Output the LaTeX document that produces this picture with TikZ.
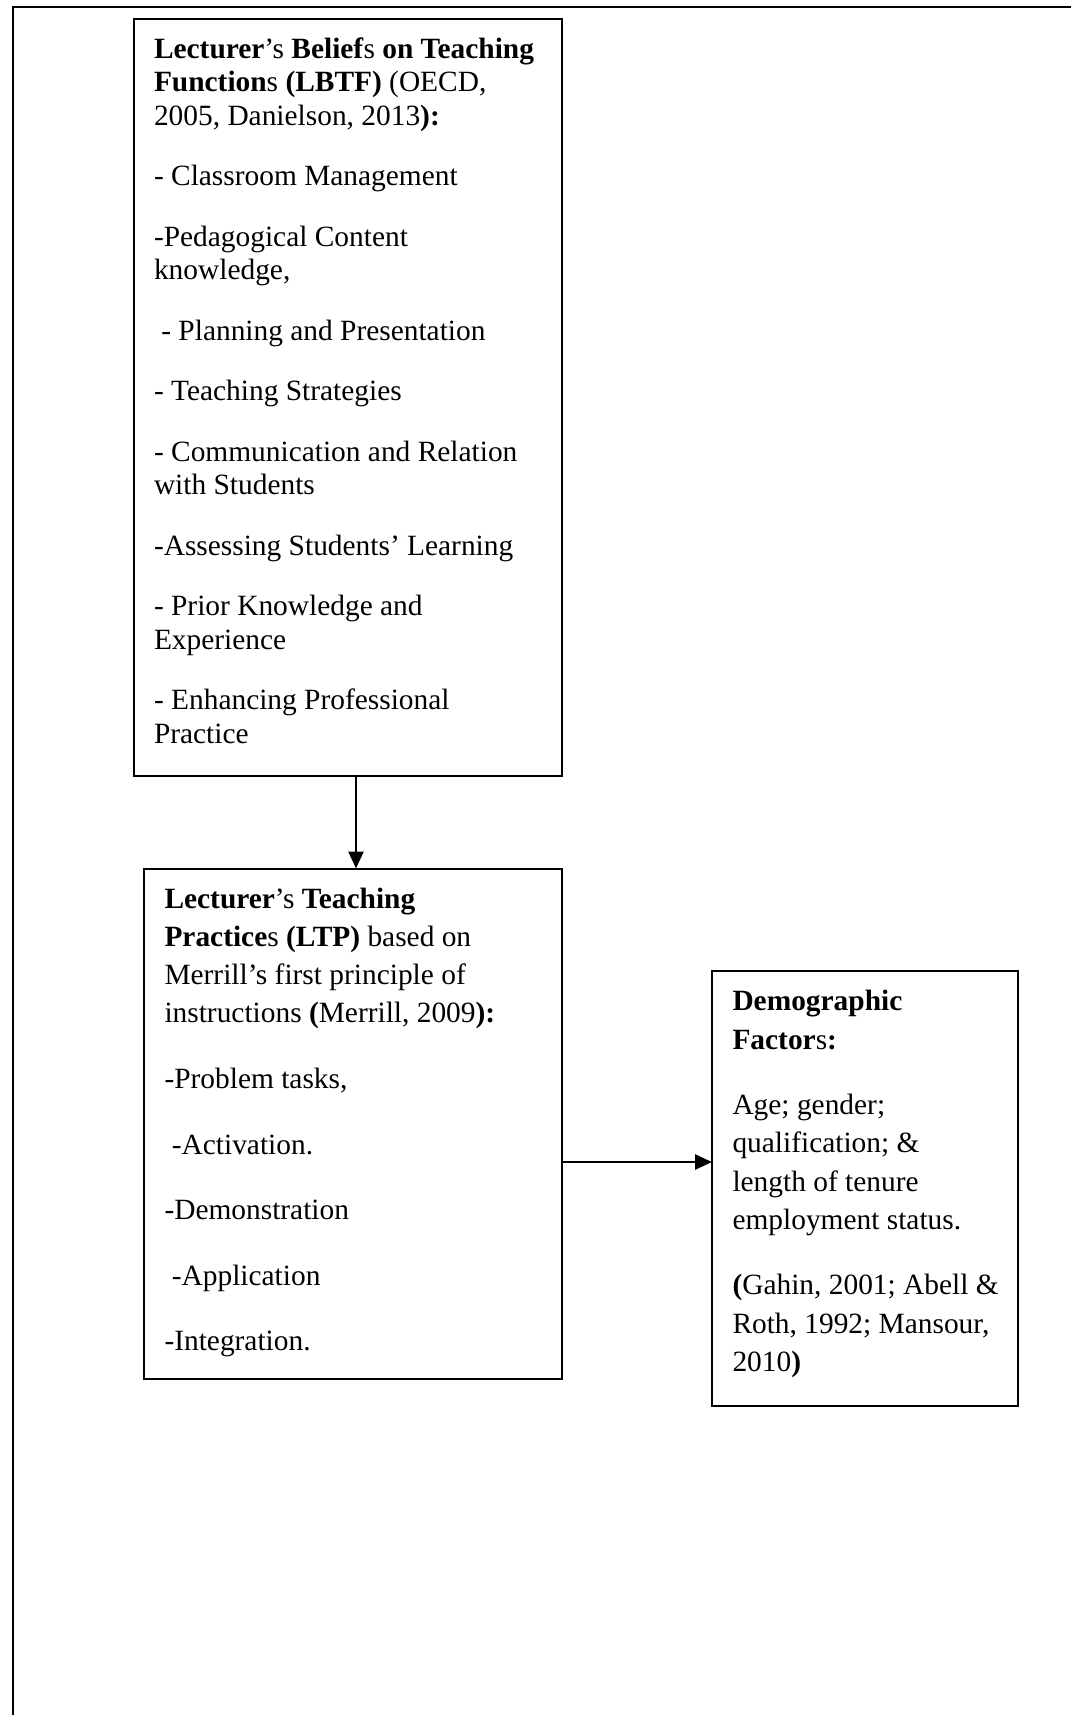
\documentclass[tikz,border=0pt]{standalone}
\usepackage{fontspec}
\setmainfont{Liberation Serif}
\usetikzlibrary{arrows.meta}
% #1 width, #2 height, #3 baselineskip, #4 parskip, #5 first baseline, #6 text
\newcommand{\bxt}[6]{\parbox[t][#2][t]{#1}{\fontsize{29.4pt}{#3}\selectfont\raggedright\setlength{\parskip}{#4}\setlength{\leftskip}{20.5pt}\rule{0pt}{#5}#6}}
\tikzset{
  box/.style={draw, line width=2pt, inner sep=0pt, outer sep=0pt, anchor=north west},
  arr/.style={line width=2.6pt, -{Triangle[length=17pt,width=15pt]}},
  frame/.style={line width=2.4pt}
}
\begin{document}
\begin{tikzpicture}[x=1pt,y=-1pt]
\useasboundingbox (0,0) rectangle (1071,1715);
\draw[frame] (13,1715) -- (13,7) -- (1071,7);

\node[box] (lbtf) at (133.5,18.6) {\bxt{428pt}{757.4pt}{33.5pt}{27pt}{39.5pt}{%
\textbf{Lecturer}’s \textbf{Belief}s \textbf{on Teaching}\\
\textbf{Function}s \textbf{(LBTF)} (OECD,\\
2005, Danielson, 2013\textbf{):}

- Classroom Management

-Pedagogical Content\\
knowledge,

\ - Planning and Presentation

- Teaching Strategies

- Communication and Relation\\
with Students

-Assessing Students’ Learning

- Prior Knowledge and\\
Experience

- Enhancing Professional\\
Practice}};

\node[box] (ltp) at (144,868.5) {\bxt{417.5pt}{510pt}{38.3pt}{27.3pt}{39.5pt}{%
\textbf{Lecturer}’s \textbf{Teaching}\\
\textbf{Practice}s \textbf{(LTP)} based on\\
Merrill’s first principle of\\
instructions \textbf{(}Merrill, 2009\textbf{):}

-Problem tasks,

\ -Activation.

-Demonstration

\ -Application

-Integration.}};

\node[box] (demo) at (712,971) {\bxt{306pt}{435pt}{38.5pt}{26.5pt}{39.5pt}{%
\textbf{Demographic}\\
\textbf{Factor}s\textbf{:}

Age; gender;\\
qualification; \&\\
length of tenure\\
employment status.

\textbf{(}Gahin, 2001; Abell \&\\
Roth, 1992; Mansour,\\
2010\textbf{)}}};

\draw[arr] ([xshift=8.5pt]lbtf.south) -- ([xshift=8.5pt]lbtf.south |- ltp.north);
\draw[arr] ([yshift=-38.5pt]ltp.east) -- ([yshift=-38.5pt]ltp.east -| demo.west);
\end{tikzpicture}
\end{document}
